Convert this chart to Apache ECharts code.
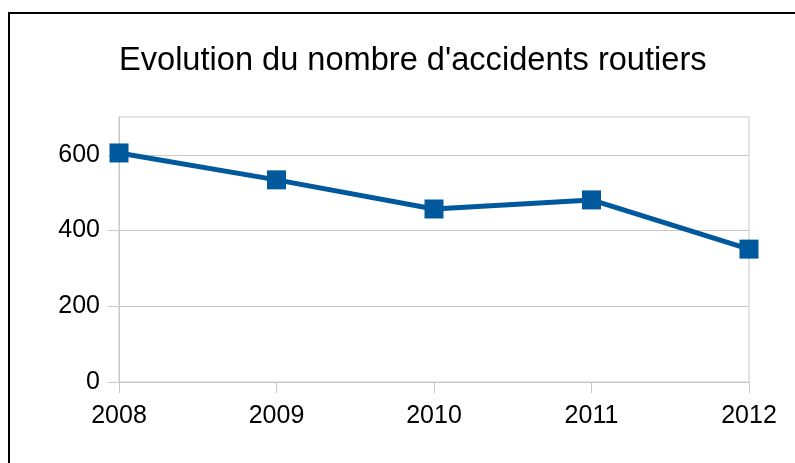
<!DOCTYPE html>
<html>
<head>
<meta charset="utf-8">
<script src="https://cdn.jsdelivr.net/npm/echarts@6/dist/echarts.min.js"></script>
<style>
  html, body { margin: 0; padding: 0; background: #fff; }
  #chart { width: 795px; height: 463px; position: relative; }
  /* cadre noir autour du graphique */
  .frame { position: absolute; left: 8px; top: 12px; width: 820px; height: 500px; border: 2px solid #000; box-sizing: border-box; pointer-events: none; }
</style>
</head>
<body>
<div id="chart"></div>
<div class="frame"></div>
<script>
const years = ['2008', '2009', '2010', '2011', '2012'];
const accidents = [605, 534, 457, 481, 351];
const yTicks = [0, 200, 400, 600];

const chart = echarts.init(document.getElementById('chart'));
chart.setOption({
  animation: false,
  title: {
    text: "Evolution du nombre d'accidents routiers",
    left: 114,
    top: 40,
    textStyle: { fontFamily: 'Liberation Sans', fontSize: 32.6, fontWeight: 'normal', color: '#000' }
  },
  grid: {
    left: 119, right: 46, top: 117, bottom: 81,
    show: true, borderColor: '#c8c8c8', borderWidth: 1
  },
  xAxis: {
    type: 'category',
    data: years,
    boundaryGap: false,
    axisLine: { lineStyle: { color: '#c8c8c8', width: 1 } },
    axisTick: { show: true, length: 11, inside: false, lineStyle: { color: '#c8c8c8' } },
    axisLabel: { margin: 22, fontFamily: 'Liberation Sans', fontSize: 25, color: '#000' },
    splitLine: { show: false }
  },
  yAxis: {
    type: 'value',
    min: 0, max: 700, interval: 100,
    axisLine: { show: true, lineStyle: { color: '#c8c8c8', width: 1 } },
    axisTick: { show: true, length: 11, customValues: yTicks, lineStyle: { color: '#c8c8c8' } },
    axisLabel: { margin: 19, customValues: yTicks, fontFamily: 'Liberation Sans', fontSize: 25, color: '#000' },
    splitLine: { show: true, lineStyle: { color: '#c8c8c8', width: 1 } }
  },
  series: [{
    type: 'line',
    data: accidents,
    symbol: 'rect',
    symbolSize: 19,
    lineStyle: { color: '#00599c', width: 5 },
    itemStyle: { color: '#00599c' }
  }]
});
</script>
</body>
</html>
